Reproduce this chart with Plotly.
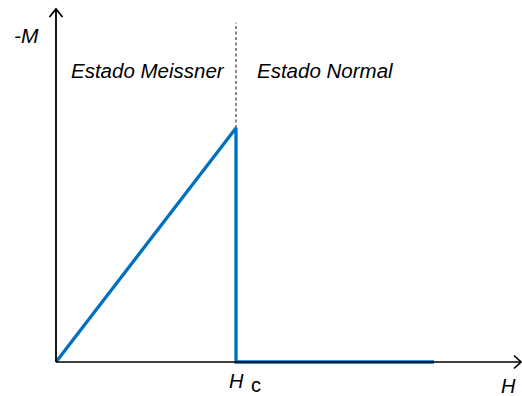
import plotly.graph_objects as go

# Magnetisation curve of a type-I superconductor (normalised units)
H_vals = [0.0, 1.0, 1.0, 2.1]      # applied field, in units of Hc
M_vals = [0.0, 1.0, 0.0, 0.0]      # -M, normalised to its value at Hc
HC = 1.0
DASH_TOP = 1.45                    # top of the dashed Hc guide

region_labels = ["Estado Meissner", "Estado Normal"]

W, H = 522, 396
X0, Y0 = 56, 362          # origin in pixels
SX, SY = 180, 234         # pixels per unit

BLUE = "#0070C0"
FONT = "Liberation Sans, Arial, sans-serif"


def px2x(px):
    return (px - X0) / SX


def py2y(py):
    return (Y0 - py) / SY


fig = go.Figure()

fig.add_trace(go.Scatter(
    x=H_vals, y=M_vals, mode="lines",
    line=dict(color=BLUE, width=3.3),
    hoverinfo="skip", showlegend=False,
))

# dashed guide above the transition
fig.add_trace(go.Scatter(
    x=[HC, HC], y=[max(M_vals), DASH_TOP], mode="lines",
    line=dict(color="#3a3a3a", width=1.2, dash="3px,2.5px"),
    hoverinfo="skip", showlegend=False,
))

shapes = []
# axis lines
shapes.append(dict(type="line", xref="x", yref="y",
                   x0=px2x(X0), y0=py2y(Y0), x1=px2x(X0), y1=py2y(9),
                   line=dict(color="black", width=1.8)))
shapes.append(dict(type="line", xref="x", yref="y",
                   x0=px2x(X0), y0=py2y(Y0), x1=px2x(521), y1=py2y(Y0),
                   line=dict(color="black", width=1.6)))


# open arrowheads
def arrow_path(pts):
    d = "M {} {}".format(px2x(pts[0][0]), py2y(pts[0][1]))
    for p in pts[1:]:
        d += " L {} {}".format(px2x(p[0]), py2y(p[1]))
    return d


shapes.append(dict(type="path", xref="x", yref="y",
                   path=arrow_path([(49.5, 17), (56, 9), (62.5, 17)]),
                   line=dict(color="black", width=1.8)))
shapes.append(dict(type="path", xref="x", yref="y",
                   path=arrow_path([(514, 355.5), (521, 362), (514, 368.5)]),
                   line=dict(color="black", width=1.6)))

annotations = [
    dict(x=px2x(26), y=py2y(35), text="<i>-M</i>", showarrow=False,
         font=dict(size=21, color="black", family=FONT)),
    dict(x=px2x(148), y=py2y(70), text="<i>" + region_labels[0] + "</i>",
         showarrow=False, font=dict(size=20.5, color="black", family=FONT)),
    dict(x=px2x(325), y=py2y(70), text="<i>" + region_labels[1] + "</i>",
         showarrow=False, font=dict(size=20.5, color="black", family=FONT)),
    dict(x=HC, y=py2y(381), text="<i>H</i>", showarrow=False,
         font=dict(size=20, color="black", family=FONT)),
    dict(x=HC + px2x(X0 + 20), y=py2y(385), text="c", showarrow=False,
         font=dict(size=20, color="black", family=FONT)),
    dict(x=px2x(508), y=py2y(386), text="<i>H</i>", showarrow=False,
         font=dict(size=20, color="black", family=FONT)),
]

fig.update_layout(
    width=W, height=H,
    margin=dict(l=0, r=0, t=0, b=0),
    paper_bgcolor="white", plot_bgcolor="white",
    xaxis=dict(range=[px2x(0), px2x(W)], visible=False, fixedrange=True),
    yaxis=dict(range=[py2y(H), py2y(0)], visible=False, fixedrange=True),
    shapes=shapes,
    annotations=annotations,
    showlegend=False,
)

fig.write_html("out.html")
